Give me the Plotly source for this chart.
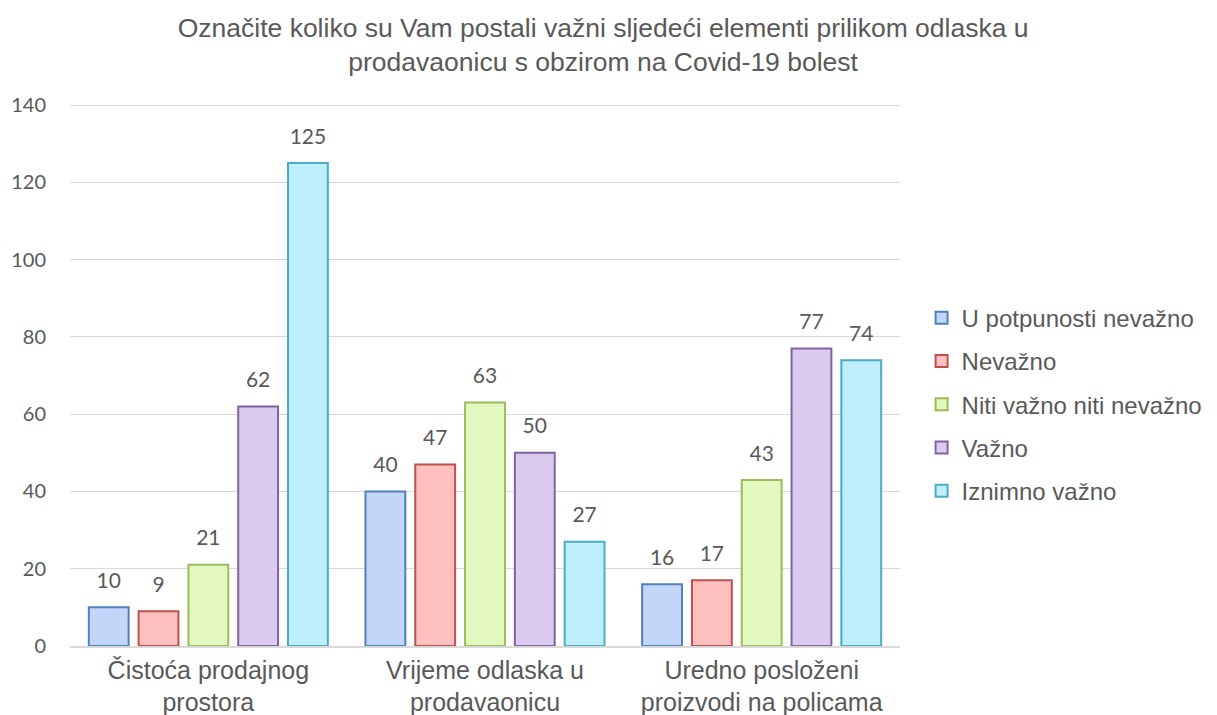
import plotly.graph_objects as go

categories = ["Čistoća prodajnog<br>prostora", "Vrijeme odlaska u<br>prodavaonicu", "Uredno posloženi<br>proizvodi na policama"]
series_names = ["U potpunosti nevažno", "Nevažno", "Niti važno niti nevažno", "Važno", "Iznimno važno"]
u_potpunosti_nevazno = [10, 40, 16]
nevazno = [9, 47, 17]
niti_niti = [21, 63, 43]
vazno = [62, 50, 77]
iznimno_vazno = [125, 27, 74]

values = [u_potpunosti_nevazno, nevazno, niti_niti, vazno, iznimno_vazno]
fills = ["#c4d6f8", "#ffc0bf", "#e3f8c0", "#dacbee", "#bfeefc"]
borders = ["#4f81bd", "#c0504d", "#9bbb59", "#8064a2", "#4bacc6"]

fig = go.Figure()
for i, (name, vals, fc, lc) in enumerate(zip(series_names, values, fills, borders)):
    fig.add_trace(go.Bar(
        x=categories, y=vals, name=name, legendgroup=f"g{i}", offsetgroup=f"g{i}",
        marker=dict(color=fc, line=dict(color=lc, width=2)),
    ))
# data labels as separate text traces (invisible marker pushes the text up a bit)
for i, vals in enumerate(values):
    fig.add_trace(go.Scatter(
        x=categories, y=vals, mode="markers+text", text=vals, offsetgroup=f"g{i}",
        marker=dict(size=21, color="rgba(0,0,0,0)"),
        textposition="top center", cliponaxis=False, showlegend=False, hoverinfo="skip",
        textfont=dict(family="Lato", size=21, color="#595959"),
    ))

fig.update_layout(
    width=1217, height=715,
    paper_bgcolor="white", plot_bgcolor="white",
    margin=dict(l=62, r=325, t=96, b=77, autoexpand=False),
    barmode="group", bargap=0.1, bargroupgap=0.2,
    scattermode="group", scattergap=0.1,
    title=dict(
        text="Označite koliko su Vam postali važni sljedeći elementi prilikom odlaska u<br>prodavaonicu s obzirom na Covid-19 bolest",
        x=0.489, xanchor="center", yref="container", y=1 - 29 / 715, yanchor="middle",
        font=dict(family="Liberation Sans", size=26.5, color="#595959"),
    ),
    legend=dict(
        x=1.026, xanchor="left", y=0.446, yanchor="middle",
        font=dict(family="Liberation Sans", size=24, color="#595959"),
        itemwidth=30, tracegroupgap=9,
    ),
    showlegend=True,
)
fig.update_xaxes(
    showline=True, linecolor="#d9d9d9", linewidth=1.5, automargin=False,
    tickfont=dict(family="Liberation Sans", size=25, color="#595959"),
    ticks="", ticklabelstandoff=1,
)
fig.update_yaxes(
    range=[0, 140.3], tickvals=[0, 20, 40, 60, 80, 100, 120, 140], showgrid=True, gridcolor="#d9d9d9", gridwidth=1,
    zeroline=False, showline=False, ticks="", automargin=False,
    tickfont=dict(family="Lato", size=20, color="#595959"),
    ticklabelstandoff=23,
)

fig.write_html("out.html")
